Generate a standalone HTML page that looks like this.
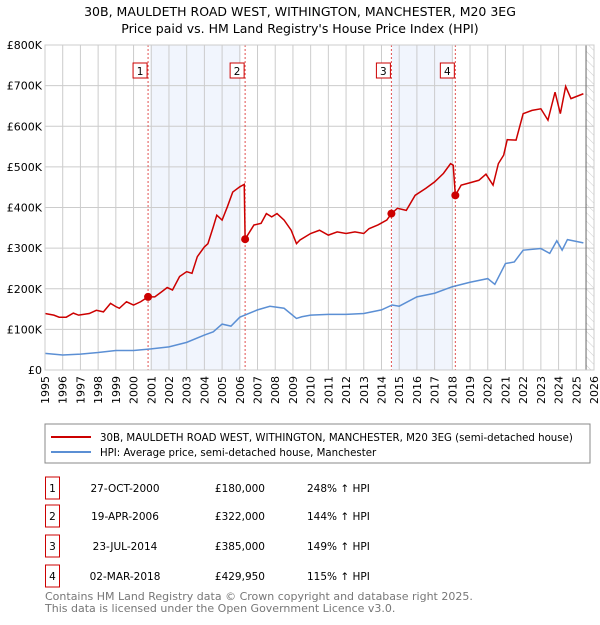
<!DOCTYPE html>
<html><head><meta charset="utf-8"><style>
body{margin:0;background:#fff;font-family:"Liberation Sans","DejaVu Sans",sans-serif;}
svg text{font-family:"DejaVu Sans","Liberation Sans",sans-serif;}
</style></head><body>
<svg id="c" width="600" height="620" viewBox="0 0 600 620" xmlns="http://www.w3.org/2000/svg">
<defs><pattern id="hatch" width="6" height="6" patternUnits="userSpaceOnUse" patternTransform="rotate(-45)"><line x1="0" y1="0" x2="0" y2="6" stroke="#ccc" stroke-width="1"/></pattern></defs>
<text x="300" y="16" text-anchor="middle" font-size="12.5" fill="#000">30B, MAULDETH ROAD WEST, WITHINGTON, MANCHESTER, M20 3EG</text>
<text x="300" y="33" text-anchor="middle" font-size="12.5" fill="#000">Price paid vs. HM Land Registry's House Price Index (HPI)</text>
<g id="plot"></g>
<rect x="45" y="424" width="545" height="39" fill="#fff" stroke="#888"/>
<line x1="51" y1="437" x2="91" y2="437" stroke="#cc0000" stroke-width="2"/>
<text x="100" y="441" font-size="10.2">30B, MAULDETH ROAD WEST, WITHINGTON, MANCHESTER, M20 3EG (semi-detached house)</text>
<line x1="51" y1="452" x2="91" y2="452" stroke="#5b8fd4" stroke-width="2"/>
<text x="100" y="456" font-size="10.2">HPI: Average price, semi-detached house, Manchester</text>
<g id="table" font-size="10.5"></g>
<text x="45" y="600" font-size="11" fill="#777">Contains HM Land Registry data © Crown copyright and database right 2025.</text>
<text x="45" y="612" font-size="11" fill="#777">This data is licensed under the Open Government Licence v3.0.</text>
</svg>
<script>
const yearTicks=[1995,1996,1997,1998,1999,2000,2001,2002,2003,2004,2005,2006,2007,2008,2009,2010,2011,2012,2013,2014,2015,2016,2017,2018,2019,2020,2021,2022,2023,2024,2025,2026];
const valueTicks=[0,100,200,300,400,500,600,700,800];
const valueLabels=["£0","£100K","£200K","£300K","£400K","£500K","£600K","£700K","£800K"];
const propYears=[1995,1995.5,1995.8,1996.2,1996.6,1996.9,1997.5,1997.9,1998.3,1998.7,1999,1999.2,1999.6,2000,2000.4,2000.82,2001.2,2001.6,2001.9,2002.2,2002.6,2003,2003.3,2003.6,2004,2004.2,2004.5,2004.7,2005,2005.3,2005.6,2006,2006.25,2006.3,2006.8,2007.2,2007.5,2007.8,2008.1,2008.5,2008.9,2009.2,2009.4,2010,2010.5,2011,2011.5,2012,2012.5,2013,2013.3,2013.8,2014.3,2014.56,2014.9,2015.4,2015.9,2016.5,2017,2017.5,2017.9,2018.05,2018.17,2018.5,2019,2019.5,2019.9,2020.3,2020.6,2020.9,2021.1,2021.6,2022,2022.5,2023,2023.4,2023.8,2024.1,2024.4,2024.7,2025.4];
const propValues=[139,135,130,130,140,135,139,147,143,164,156,152,168,160,168,180,180,193,203,197,230,242,238,279,303,311,352,381,369,402,438,451,457,322,357,361,385,377,385,369,344,311,320,336,344,332,340,336,340,336,348,357,369,385,398,393,430,447,463,484,508,504,430,455,461,467,482,455,508,529,567,566,631,639,643,615,684,631,698,668,680];
const hpiYears=[1995,1996,1997,1998,1999,2000,2001,2002,2003,2004,2004.5,2005,2005.5,2006,2007,2007.7,2008.5,2009.2,2009.5,2010,2011,2012,2013,2014,2014.6,2015,2016,2017,2018,2019,2020,2020.4,2021,2021.5,2022,2023,2023.5,2023.9,2024.2,2024.5,2025.4];
const hpiValues=[41,37,39,43,48,48,52,57,68,86,94,113,108,130,148,157,152,127,131,135,137,137,139,148,160,157,180,189,205,216,225,211,262,266,295,299,287,318,295,321,313];
const saleLabels=["1","2","3","4"];
const saleYears=[2000.82,2006.3,2014.56,2018.17];
const saleValues=[180,322,385,429.95];
const saleDates=["27-OCT-2000","19-APR-2006","23-JUL-2014","02-MAR-2018"];
const salePrices=["£180,000","£322,000","£385,000","£429,950"];
const salePct=["248% ↑ HPI","144% ↑ HPI","149% ↑ HPI","115% ↑ HPI"];
const shadeSpans=[[2000.95,2006.05],[2014.6,2018.0]];
const dataEnd=2025.55;

const X0=45,X1=594,Y0=370,Y1=45;
const xs=y=>X0+(y-1995)/(2026-1995)*(X1-X0);
const ys=v=>Y0-v/800*(Y0-Y1);
const NS="http://www.w3.org/2000/svg";
const plot=document.getElementById('plot');
function mk(tag,attrs,parent){const e=document.createElementNS(NS,tag);for(const k in attrs)e.setAttribute(k,attrs[k]);(parent||plot).appendChild(e);return e;}
let bg=mk('rect',{x:X0,y:Y1,width:X1-X0,height:Y0-Y1,fill:'#fff'});


shadeSpans.forEach(s=>{const r=mk('rect',{x:xs(s[0]),y:Y1,width:xs(s[1])-xs(s[0]),height:Y0-Y1,fill:'#eef3fd',opacity:0.8});

});
let h=mk('rect',{x:xs(dataEnd),y:Y1,width:X1-xs(dataEnd),height:Y0-Y1,fill:'url(#hatch)'});


yearTicks.forEach(yr=>{const l=mk('line',{x1:xs(yr),x2:xs(yr),y1:Y1,y2:Y0,stroke:'#ccc'});


const t=mk('text',{x:0,y:0,transform:`translate(${xs(yr)+4},${Y0+6}) rotate(-90)`,'text-anchor':'end','font-size':11});
t.textContent=yr;

});
valueTicks.forEach((v,i)=>{const l=mk('line',{x1:X0,x2:X1,y1:ys(v),y2:ys(v),stroke:'#ccc'});


const t=mk('text',{x:X0-3,y:ys(v)+4,'text-anchor':'end','font-size':11});
t.textContent=valueLabels[i];

});
let dl=mk('line',{x1:xs(dataEnd),x2:xs(dataEnd),y1:Y1,y2:Y0,stroke:'#666'});


saleYears.forEach((yr,i)=>{const l=mk('line',{x1:xs(yr),x2:xs(yr),y1:Y1,y2:Y0,stroke:'#e05050','stroke-dasharray':'2,2'});


const b=mk('rect',{x:xs(yr)-15,y:63,width:14,height:15,fill:'#fff',stroke:'#cc0000'});


const t=mk('text',{x:xs(yr)-8,y:75,'text-anchor':'middle','font-size':10.5});
t.textContent=saleLabels[i];

});
let hp=mk('polyline',{points:hpiYears.map((y,i)=>xs(y)+','+ys(hpiValues[i])).join(' '),fill:'none',stroke:'#5b8fd4','stroke-width':1.5});


let pp=mk('polyline',{points:propYears.map((y,i)=>xs(y)+','+ys(propValues[i])).join(' '),fill:'none',stroke:'#cc0000','stroke-width':1.5});


saleYears.forEach((yr,i)=>{const c=mk('circle',{cx:xs(yr),cy:ys(saleValues[i]),r:4,fill:'#cc0000'});

});
let fr=mk('rect',{x:X0,y:Y1,width:X1-X0,height:Y0-Y1,fill:'none',stroke:'#ccc'});


const tb=document.getElementById('table');
const rowY=[487,515,545,575];
rowY.forEach((ry,i)=>{const b=mk('rect',{x:45.5,y:ry-10,width:14,height:22,fill:'#fff',stroke:'#cc0000'},tb);


const cells=[[52.5,'middle',saleLabels[i]],[125,'middle',saleDates[i]],[265,'end',salePrices[i]],[307,'start',salePct[i]]];
cells.forEach(c=>{const t=mk('text',{x:c[0],y:ry+5,'text-anchor':c[1]},tb);t.textContent=c[2];

});});
</script>
</body></html>
